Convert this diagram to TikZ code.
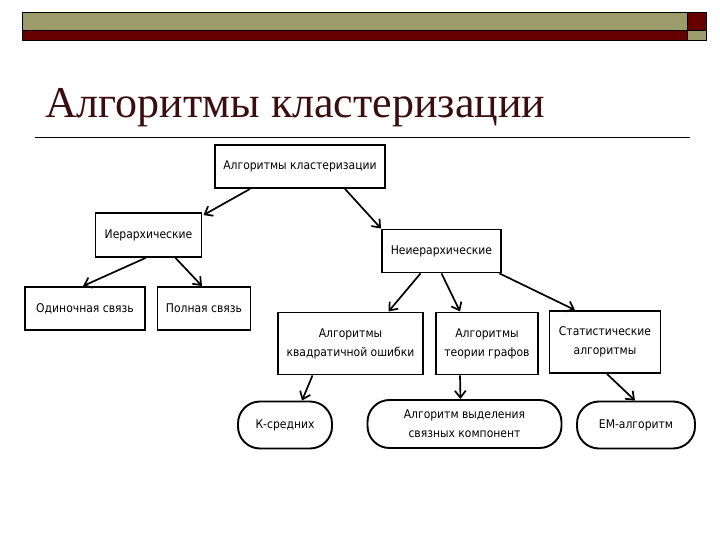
\documentclass[tikz,border=0pt]{standalone}
\usepackage{fontspec}
\setmainfont{Liberation Serif}
\newfontfamily\boxfont{DejaVu Sans Condensed}
\usetikzlibrary{arrows.meta}
\definecolor{olivebar}{HTML}{9C9B6B}
\definecolor{darkbar}{HTML}{660000}
\definecolor{titlecol}{HTML}{3A0E0E}
\tikzset{
  box/.style={draw=black, line width=1.9pt, fill=white, inner sep=0pt, align=center,
    font=\boxfont\fontsize{12}{19}\selectfont},
  rbox/.style={box, rounded corners=22pt},
  conn/.style={line width=1.7pt, -{Straight Barb[length=7pt,width=11pt,line width=1.7pt]}}
}
\begin{document}
\begin{tikzpicture}[x=1pt,y=-1pt]
\useasboundingbox (0,0) rectangle (720,540);
% top bars
\fill[olivebar] (22,12) rectangle (687,30);
\fill[darkbar] (22,30) rectangle (687,40);
\fill[darkbar] (687,12) rectangle (706,30);
\fill[olivebar] (687,30) rectangle (706,40);
\draw[line width=0.8pt] (22,12) rectangle (706,40);
\draw[line width=0.6pt] (22,30) -- (706,30);
\draw[line width=0.6pt] (687,12) -- (687,40);
% title
\node[anchor=base west, inner sep=0pt, text=titlecol, font=\fontsize{44}{48}\selectfont] (title) at (45,118) {Алгоритмы кластеризации};
\draw[line width=0.8pt] (35,137) -- (690,137);
% boxes
\node[box, minimum width=170pt, minimum height=43pt] (A) at (300,166.5) {Алгоритмы кластеризации};
\node[box, minimum width=106pt, minimum height=44pt] (B) at (148.5,235) {Иерархические};
\node[box, minimum width=119pt, minimum height=43pt] (C) at (441.5,251) {Неиерархические};
\node[box, minimum width=120pt, minimum height=43pt] (D) at (85,308.5) {Одиночная связь};
\node[box, minimum width=93pt, minimum height=43pt] (E) at (204,308.5) {Полная связь};
\node[box, minimum width=145pt, minimum height=62pt] (F) at (350.5,343.5) {Алгоритмы\\квадратичной ошибки};
\node[box, minimum width=102pt, minimum height=62pt] (G) at (487,343.5) {Алгоритмы\\теории графов};
\node[box, minimum width=111pt, minimum height=62pt] (H) at (605,342) {Статистические\\алгоритмы};
\node[rbox, minimum width=94pt, minimum height=47pt] (I) at (285,425) {К-средних};
\node[rbox, minimum width=194pt, minimum height=48pt] (J) at (464.5,424) {Алгоритм выделения\\связных компонент};
\node[rbox, minimum width=118pt, minimum height=47pt] (K) at (636,425) {ЕМ-алгоритм};
% connectors
\draw[conn] ([xshift=-50pt]A.south) -- ([xshift=55pt,yshift=-3pt]B.north);
\draw[conn] ([xshift=45pt]A.south) -- (C.north west);
\draw[conn] ([xshift=-3pt]B.south) -- ([xshift=-2pt]D.north);
\draw[conn] ([xshift=27pt]B.south) -- ([xshift=-2pt]E.north);
\draw[conn] ([xshift=-21pt]C.south) -- ([xshift=38pt]F.north);
\draw[conn] ([xshift=0pt]C.south) -- ([xshift=-27pt]G.north);
\draw[conn] ([xshift=58pt]C.south) -- ([xshift=-30pt]H.north);
\draw[conn] ([xshift=-38pt]F.south) -- ([xshift=17pt]I.north);
\draw[conn] ([xshift=-27pt]G.south) -- ([xshift=-4pt]J.north);
\draw[conn] ([xshift=2pt]H.south) -- ([xshift=-1pt]K.north);
\end{tikzpicture}
\end{document}
